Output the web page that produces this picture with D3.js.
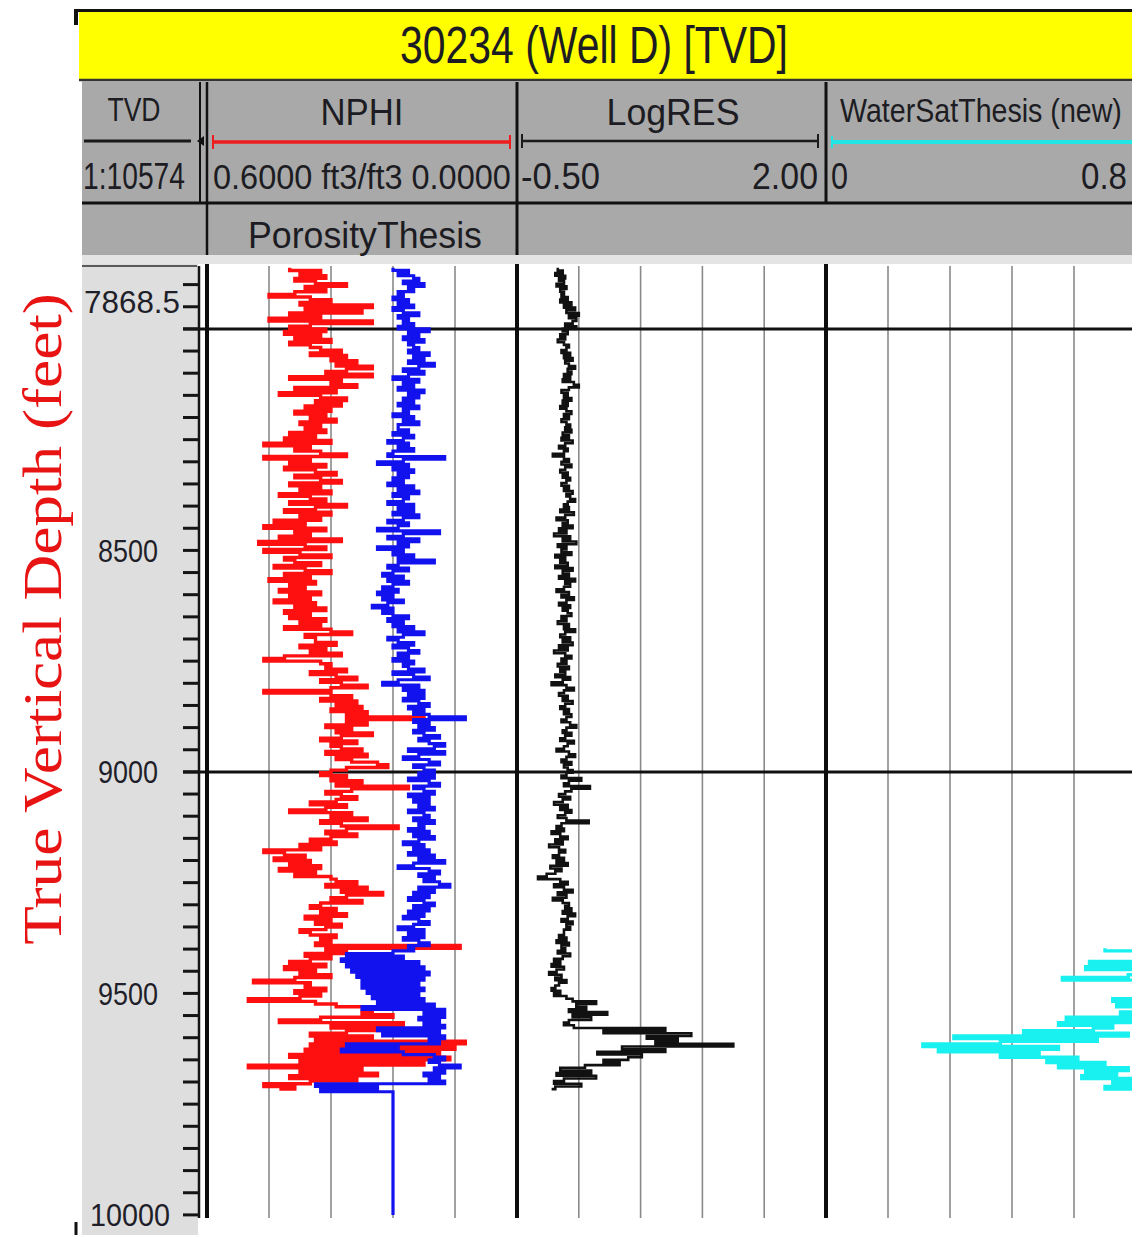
<!DOCTYPE html>
<html>
<head>
<meta charset="utf-8">
<script src="https://cdn.jsdelivr.net/npm/d3@7"></script>
<style>
  body { margin: 0; background: #fff; }
  svg { display: block; }
</style>
</head>
<body>
<svg id="chart" width="1132" height="1235"></svg>
<script>
// ---------------------------------------------------------------
// Well log data (TVD, feet). Curves sampled every 6 ft from 7862 ft.
// ---------------------------------------------------------------
const wellTitle = "30234 (Well D) [TVD]";
const depthStart = 7862;
const depthStep = 6;

// NPHI, ft3/ft3
const nphi = [
  0.44,0.38,0.42,0.37,0.43,0.39,0.33,0.41,0.37,0.43,
  0.48,0.40,0.36,0.42,0.28,0.41,0.30,0.44,0.38,0.48,
  0.28,0.40,0.44,0.37,0.45,0.38,0.43,0.36,0.44,0.40,
  0.38,0.34,0.40,0.33,0.36,0.31,0.35,0.28,0.33,0.37,
  0.28,0.44,0.34,0.36,0.31,0.43,0.35,0.46,0.38,0.33,
  0.39,0.34,0.41,0.36,0.43,0.37,0.40,0.35,0.42,0.38,
  0.41,0.37,0.44,0.39,0.45,0.36,0.49,0.40,0.43,0.38,
  0.33,0.49,0.40,0.44,0.37,0.45,0.39,0.35,0.43,0.38,
  0.34,0.44,0.38,0.42,0.36,0.46,0.40,0.37,0.44,0.33,
  0.39,0.45,0.36,0.42,0.38,0.47,0.41,0.49,0.37,0.43,
  0.40,0.46,0.34,0.50,0.41,0.37,0.49,0.42,0.36,0.45,
  0.43,0.38,0.47,0.41,0.36,0.45,0.40,0.48,0.39,0.44,
  0.41,0.46,0.38,0.44,0.40,0.47,0.39,0.43,0.37,0.45,
  0.40,0.44,0.37,0.42,0.38,0.45,0.36,0.32,0.41,0.39,
  0.39,0.35,0.42,0.37,0.40,0.34,0.45,0.49,0.38,0.36,
  0.37,0.33,0.40,0.35,0.31,0.38,0.34,0.29,0.36,0.49,
  0.36,0.32,0.38,0.31,0.35,0.30,0.36,0.29,0.33,0.18,
  0.33,0.29,0.37,0.32,0.35,0.28,0.34,0.38,0.31,0.36,
  0.34,0.30,0.37,0.29,0.35,0.32,0.27,0.25,0.33,0.36,
  0.38,0.33,0.36,0.30,0.35,0.21,0.32,0.37,0.34,0.31,
  0.35,0.40,0.33,0.37,0.44,0.32,0.36,0.29,0.38,0.34,
  0.23,0.33,0.37,0.31,0.36,0.40,0.35,0.42,0.38,0.49,
  0.45,0.41,0.47,0.40,0.44,0.38,0.46,0.39,0.43,0.36,
  0.35,0.31,0.37,0.29,0.34,0.26,0.33,0.36,0.30,0.38,
  0.40,0.35,0.38,0.33,0.41,0.36,0.39,0.34,0.37,0.42,
  0.40,0.35,0.38,0.36,0.39,0.11,0.37,0.33,0.41,0.36,
  0.40,0.44,0.37,0.45,0.39,0.42,0.36,0.43,0.51,0.40,
  0.41,0.37,0.43,0.38,0.42,0.52,0.39,0.35,0.20,0.28,
  0.30,0.24,0.38,0.46,0.22,0.36,0.26,0.33,0.40,0.28,
  0.39,0.10,0.40,0.12,0.41,0.15,0.44,0.13,0.42,0.18,
  0.52,0.30,0.42,0.27,0.44,0.31,0.40,0.49,0.43,0.46
];

// PorosityThesis, ft3/ft3 (same scale as NPHI)
const porosity = [
  0.24,0.21,0.23,0.20,0.19,0.22,0.18,0.21,0.20,0.23,
  0.22,0.24,0.21,0.23,0.20,0.24,0.22,0.19,0.23,0.21,
  0.22,0.20,0.23,0.17,0.21,0.19,0.22,0.18,0.21,0.20,
  0.19,0.21,0.17,0.20,0.18,0.21,0.16,0.19,0.22,0.18,
  0.21,0.24,0.19,0.22,0.20,0.23,0.18,0.21,0.19,0.22,
  0.20,0.23,0.19,0.22,0.21,0.24,0.20,0.22,0.19,0.23,
  0.23,0.21,0.24,0.20,0.22,0.25,0.21,0.23,0.20,0.24,
  0.25,0.14,0.22,0.27,0.21,0.24,0.20,0.23,0.21,0.24,
  0.22,0.25,0.20,0.23,0.19,0.24,0.21,0.22,0.25,0.20,
  0.23,0.20,0.24,0.19,0.22,0.25,0.21,0.23,0.27,0.15,
  0.22,0.25,0.19,0.23,0.21,0.27,0.22,0.24,0.20,0.23,
  0.16,0.23,0.25,0.21,0.24,0.26,0.22,0.25,0.21,0.24,
  0.26,0.23,0.27,0.24,0.26,0.22,0.25,0.28,0.24,0.26,
  0.24,0.21,0.25,0.22,0.24,0.20,0.23,0.18,0.22,0.25,
  0.23,0.20,0.24,0.21,0.19,0.23,0.21,0.24,0.20,0.22,
  0.21,0.18,0.24,0.20,0.17,0.23,0.26,0.19,0.22,0.18,
  0.21,0.18,0.22,0.19,0.17,0.21,0.18,0.20,0.17,0.10,
  0.20,0.17,0.19,0.16,0.20,0.18,0.15,0.19,0.17,0.14,
  0.16,0.21,0.14,0.19,0.22,0.17,0.15,0.20,0.18,0.16,
  0.19,0.16,0.21,0.17,0.15,0.20,0.18,0.16,0.21,0.17,
  0.20,0.17,0.19,0.16,0.21,0.18,0.17,0.20,0.16,0.19,
  0.18,0.21,0.17,0.20,0.16,0.19,0.22,0.18,0.20,0.17,
  0.21,0.16,0.19,0.14,0.20,0.23,0.17,0.15,0.19,0.16,
  0.18,0.15,0.13,0.19,0.16,0.20,0.17,0.21,0.18,0.16,
  0.20,0.17,0.21,0.18,0.22,0.19,0.17,0.20,0.23,0.18,
  0.21,0.18,0.22,0.19,0.17,0.21,0.20,0.24,0.33,0.22,
  0.34,0.19,0.33,0.18,0.32,0.17,0.31,0.18,0.30,0.19,
  0.30,0.18,0.29,0.19,0.28,0.18,0.27,0.16,0.30,0.14,
  0.18,0.14,0.19,0.15,0.18,0.14,0.27,0.15,0.26,0.14,
  0.17,0.15,0.33,0.23,0.34,0.22,0.16,0.14,0.17,0.15,
  0.11,0.16,0.14,0.18,0.15,0.17,0.14,0.39,0.27,0.38
];
// constant PorosityThesis reading below the logged interval: [depth, value]
const porosityTail = [[9722, 0.24], [10000, 0.24]];

// LogRES (log10 ohm.m)
const logRes = [
  -0.17,-0.13,-0.19,-0.11,-0.16,-0.12,-0.18,-0.10,-0.15,-0.12,
  -0.14,-0.09,-0.15,-0.06,-0.12,-0.03,-0.10,0.00,-0.08,-0.02,
  -0.05,-0.11,-0.02,-0.13,-0.09,-0.15,-0.11,-0.17,-0.12,-0.08,
  -0.10,-0.14,-0.07,-0.12,-0.05,-0.11,-0.08,-0.03,-0.09,-0.06,
  -0.12,-0.07,-0.13,-0.04,0.00,-0.08,-0.14,-0.09,-0.12,-0.06,
  -0.13,-0.09,-0.15,-0.10,-0.06,-0.12,-0.08,-0.14,-0.10,-0.07,
  -0.11,-0.06,-0.13,-0.08,-0.14,-0.05,-0.11,-0.16,-0.09,-0.12,
  -0.21,-0.12,-0.08,-0.14,-0.06,-0.11,-0.15,-0.09,-0.13,-0.07,
  -0.10,-0.14,-0.08,-0.12,-0.05,-0.10,-0.07,-0.03,-0.09,-0.12,
  -0.08,-0.15,-0.04,-0.11,-0.18,-0.09,-0.13,-0.05,-0.16,-0.10,
  -0.20,-0.07,-0.13,-0.02,-0.17,-0.10,-0.14,-0.06,-0.19,-0.11,
  -0.15,-0.09,-0.19,-0.05,-0.13,-0.08,-0.16,-0.03,-0.11,-0.07,
  -0.12,-0.18,-0.08,-0.14,-0.04,-0.10,-0.16,-0.07,-0.13,-0.09,
  -0.06,-0.14,-0.10,-0.17,-0.08,-0.12,-0.03,-0.11,-0.15,-0.07,
  -0.13,-0.05,-0.16,-0.09,-0.20,-0.11,-0.06,-0.14,-0.10,-0.17,
  -0.08,-0.15,-0.11,-0.19,-0.07,-0.13,-0.22,-0.10,-0.04,-0.12,
  -0.16,-0.09,-0.13,-0.05,-0.11,-0.15,-0.08,-0.12,-0.06,-0.10,
  -0.14,-0.07,-0.02,-0.10,-0.13,-0.06,-0.11,-0.15,-0.04,-0.09,
  -0.12,-0.18,-0.08,-0.03,-0.10,-0.14,-0.06,-0.12,-0.09,-0.05,
  -0.10,-0.14,0.02,-0.08,-0.12,0.09,-0.06,-0.11,-0.16,-0.07,
  -0.13,-0.20,-0.09,-0.15,-0.06,-0.11,-0.17,-0.10,0.08,-0.14,
  -0.18,-0.12,-0.22,-0.15,-0.09,-0.19,-0.13,-0.24,-0.16,-0.11,
  -0.16,-0.21,-0.12,-0.18,-0.09,-0.23,-0.14,-0.19,-0.26,-0.33,
  -0.15,-0.09,-0.20,-0.12,-0.05,-0.17,-0.10,-0.21,-0.13,-0.08,
  -0.11,-0.06,-0.13,-0.03,-0.09,-0.14,-0.05,-0.10,-0.07,-0.12,
  -0.12,-0.16,-0.10,-0.18,-0.08,-0.14,-0.11,-0.17,-0.07,-0.13,
  -0.20,-0.15,-0.22,-0.12,-0.18,-0.24,-0.14,-0.19,-0.10,-0.16,
  -0.19,-0.22,-0.15,-0.20,-0.10,-0.05,0.14,-0.02,0.06,-0.08,
  0.23,-0.05,0.10,-0.08,-0.12,-0.04,0.70,0.20,0.91,0.55,
  0.80,0.62,1.25,0.35,0.70,0.15,0.51,0.40,0.20,0.33,
  0.05,-0.15,0.10,-0.18,0.14,-0.12,-0.20,0.02,-0.19,-0.22
];

// WaterSatThesis (new), fraction; starts at 9398 ft, same 6 ft step
const waterSatStart = 9398;
const waterSat = [
  0.72,0.90,0.80,0.92,0.83,0.68,0.88,0.67,0.85,0.90,
  0.78,0.61,0.87,0.95,0.84,0.92,0.86,0.95,0.80,0.74,
  0.88,0.75,0.90,0.82,0.76,0.88,0.62,0.80,0.60,0.74,
  0.69,0.51,0.78,0.33,0.70,0.45,0.25,0.60,0.29,0.55,
  0.45,0.65,0.57,0.72,0.60,0.78,0.67,0.75,0.66,0.82,
  0.74,0.90,0.72,0.95
];

// Track scales and header text
const nphiRange = [0.6, 0.0];
const logResRange = [-0.5, 2.0];
const waterSatRange = [0, 0.8];
const trackNames = ["NPHI", "LogRES", "WaterSatThesis (new)"];
const depthHeader = ["TVD", "1:10574"];
const nphiScaleText = "0.6000 ft3/ft3 0.0000";
const logResScaleText = ["-0.50", "2.00"];
const waterSatScaleText = ["0", "0.8"];
const secondCurveName = "PorosityThesis";
const depthTickLabels = [8500, 9000, 9500, 10000];
const topDepth = 7868.5;
const gridDepths = [8000, 9000];
const yAxisTitle = "True Vertical Depth (feet)";

// ---------------------------------------------------------------
// Layout
// ---------------------------------------------------------------
const W = 1132, H = 1235;
const plotTop = 266, plotBottom = 1218;
const trackNphi = [207, 517], trackRes = [517, 826], trackSw = [826, 1136];
const headerFont = "'Liberation Sans', Arial, sans-serif";
const textCol = "#1c1c22";

const svg = d3.select("#chart");

const y = d3.scaleLinear().domain([7858, 10007]).range([plotTop, plotBottom]);
const xN = d3.scaleLinear().domain(nphiRange).range(trackNphi);
const xR = d3.scaleLinear().domain(logResRange).range(trackRes);
const xS = d3.scaleLinear().domain(waterSatRange).range(trackSw);

// Text squeezed horizontally to a given width (the log header font is narrow)
function fitText(parent, str, x, yy, size, len, opts) {
  const o = opts || {};
  const t = parent.append("text").text(str)
    .attr("text-anchor", o.anchor || "middle")
    .attr("font-family", o.family || headerFont)
    .attr("font-size", size)
    .attr("fill", o.fill || textCol);
  if (o.dy) t.attr("dy", o.dy);
  const natural = t.node().getComputedTextLength();
  const sx = natural > 0 ? len / natural : 1;
  t.attr("transform", `translate(${x},${yy})${o.rotate ? ` rotate(${o.rotate})` : ""} scale(${sx},1)`);
  return t;
}
function hText(str, x, yy, size, len, anchor) {
  return fitText(svg, str, x, yy, size, len, { anchor });
}
function hLine(x1, y1, x2, y2, col, w) {
  return svg.append("line").attr("x1", x1).attr("y1", y1).attr("x2", x2).attr("y2", y2)
    .attr("stroke", col).attr("stroke-width", w);
}

// ---------- title bar ----------
svg.append("rect").attr("x", 79).attr("y", 12).attr("width", W - 79).attr("height", 67).attr("fill", "#ffff00");
hLine(74, 10.5, W, 10.5, "#111", 3);
hLine(76, 9, 76, 25, "#111", 4);
hLine(79, 80, W, 80, "#333", 2.5);
hText(wellTitle, 594, 63, 52, 388);

// ---------- header block ----------
svg.append("rect").attr("x", 82).attr("y", 81).attr("width", W - 82).attr("height", 174).attr("fill", "#a9a9a9");
svg.append("rect").attr("x", 82).attr("y", 255).attr("width", W - 82).attr("height", 9).attr("fill", "#e4e4e4");

// depth column header
hText(depthHeader[0], 134, 121, 34, 53);
hLine(84, 141, 191, 141, "#1a1a1a", 3);
hText(depthHeader[1], 83, 189, 37, 102, "start");
hLine(200, 82, 200, 203, "#111", 2);
hLine(207, 82, 207, 255, "#111", 2.5);
svg.append("path").attr("d", "M197,141 L204,136 L204,146 Z").attr("fill", "#111");

// NPHI header
hText(trackNames[0], 362, 125, 37, 83);
hLine(213, 142, 510, 142, "#ee1c1c", 3.5);
hLine(213, 135, 213, 149, "#ee1c1c", 2);
hLine(510, 135, 510, 149, "#ee1c1c", 2);
hText(nphiScaleText, 213, 189, 36, 298, "start");
hText(secondCurveName, 365, 248, 37, 234);

// LogRES header
hLine(517, 82, 517, 255, "#111", 3);
hText(trackNames[1], 673, 125, 37, 133);
hLine(522, 141, 818, 141, "#1a1a1a", 2.5);
hLine(522, 134, 522, 148, "#1a1a1a", 2);
hLine(818, 134, 818, 148, "#1a1a1a", 2);
hText(logResScaleText[0], 521, 189, 37, 79, "start");
hText(logResScaleText[1], 818, 189, 37, 66, "end");

// WaterSat header
hLine(826, 82, 826, 203, "#111", 3);
hText(trackNames[2], 840, 122, 33, 282, "start");
hLine(832, 142, W, 142, "#22e5e5", 4);
hLine(832, 136, 832, 148, "#22e5e5", 2);
hText(waterSatScaleText[0], 831, 189, 37, 17, "start");
hText(waterSatScaleText[1], 1127, 189, 37, 46, "end");

hLine(82, 203, W, 203, "#111", 3);

// ---------- depth column ----------
svg.append("rect").attr("x", 82).attr("y", 264).attr("width", 116).attr("height", H - 264).attr("fill", "#dedede");
hLine(82, 266, 197, 266, "#5a5a5a", 2);

// ---------- tracks: grid ----------
const gridG = svg.append("g").attr("stroke", "#8a8a8a").attr("stroke-width", 1.6);
[[xN, nphiRange], [xR, logResRange], [xS, waterSatRange]].forEach(([sc, dom]) => {
  d3.range(1, 5).forEach(i => {
    const gx = sc(dom[0] + (dom[1] - dom[0]) * i / 5);
    gridG.append("line").attr("x1", gx).attr("x2", gx).attr("y1", plotTop).attr("y2", plotBottom);
  });
});

// major depth lines
gridDepths.forEach(d => hLine(183, y(d), W, y(d), "#111", 3));

// ---------- curves ----------
const series = (arr, start) => arr.map((v, i) => ({ d: start + i * depthStep, v }));

function drawCurve(data, xs, color, width, clip) {
  const line = d3.line().x(p => xs(p.v)).y(p => y(p.d)).curve(d3.curveStepBefore);
  const path = svg.append("path").datum(data)
    .attr("d", line).attr("fill", "none")
    .attr("stroke", color).attr("stroke-width", width)
    .attr("stroke-linejoin", "miter");
  if (clip) path.attr("clip-path", clip);
  return path;
}

svg.append("clipPath").attr("id", "clipSw")
  .append("rect").attr("x", trackSw[0] + 2).attr("y", plotTop).attr("width", trackSw[1] - trackSw[0] - 2).attr("height", plotBottom - plotTop);
svg.append("clipPath").attr("id", "clipRes")
  .append("rect").attr("x", trackRes[0] + 2).attr("y", plotTop).attr("width", trackRes[1] - trackRes[0] - 4).attr("height", plotBottom - plotTop);

drawCurve(series(nphi, depthStart), xN, "#ff1010", 3.4);
const poro = series(porosity, depthStart).concat(porosityTail.map(([d, v]) => ({ d, v })));
drawCurve(poro, xN, "#1212ee", 3.2);
drawCurve(series(logRes, depthStart), xR, "#111", 2.6, "url(#clipRes)");
drawCurve(series(waterSat, waterSatStart), xS, "#19f0f0", 3.4, "url(#clipSw)");

// ---------- track borders and depth ruler ----------
[trackNphi[0], trackRes[0], trackSw[0]].forEach(bx => hLine(bx, 264, bx, plotBottom, "#0d0d0d", 4));
hLine(199, plotTop, 199, plotBottom, "#151515", 2.5);

const tickG = svg.append("g").attr("stroke", "#151515").attr("stroke-width", 3);
d3.range(7900, 10001, 50).forEach(d => {
  tickG.append("line").attr("x1", 183).attr("x2", 199).attr("y1", y(d)).attr("y2", y(d));
});

depthTickLabels.forEach(d => {
  const s = String(d);
  fitText(svg, s, s.length > 4 ? 130 : 128, y(d), 32, s.length > 4 ? 80 : 60, { dy: "0.36em", fill: "#1f1f2a" });
});
fitText(svg, String(topDepth), 180, y(topDepth) + 31, 32, 96, { anchor: "end", dy: "0.36em", fill: "#1f1f2a" });

// small frame mark at lower left
hLine(76, 1222, 76, H, "#111", 3);

// ---------- vertical axis title ----------
{
  const t = svg.append("text").text(yAxisTitle)
    .attr("text-anchor", "middle")
    .attr("font-family", "'Liberation Serif', 'Times New Roman', serif")
    .attr("font-size", 55)
    .attr("fill", "#e81414");
  const sx = 652 / t.node().getComputedTextLength();
  t.attr("transform", `translate(61,619) rotate(-90) scale(${sx},1)`);
}
</script>
</body>
</html>
